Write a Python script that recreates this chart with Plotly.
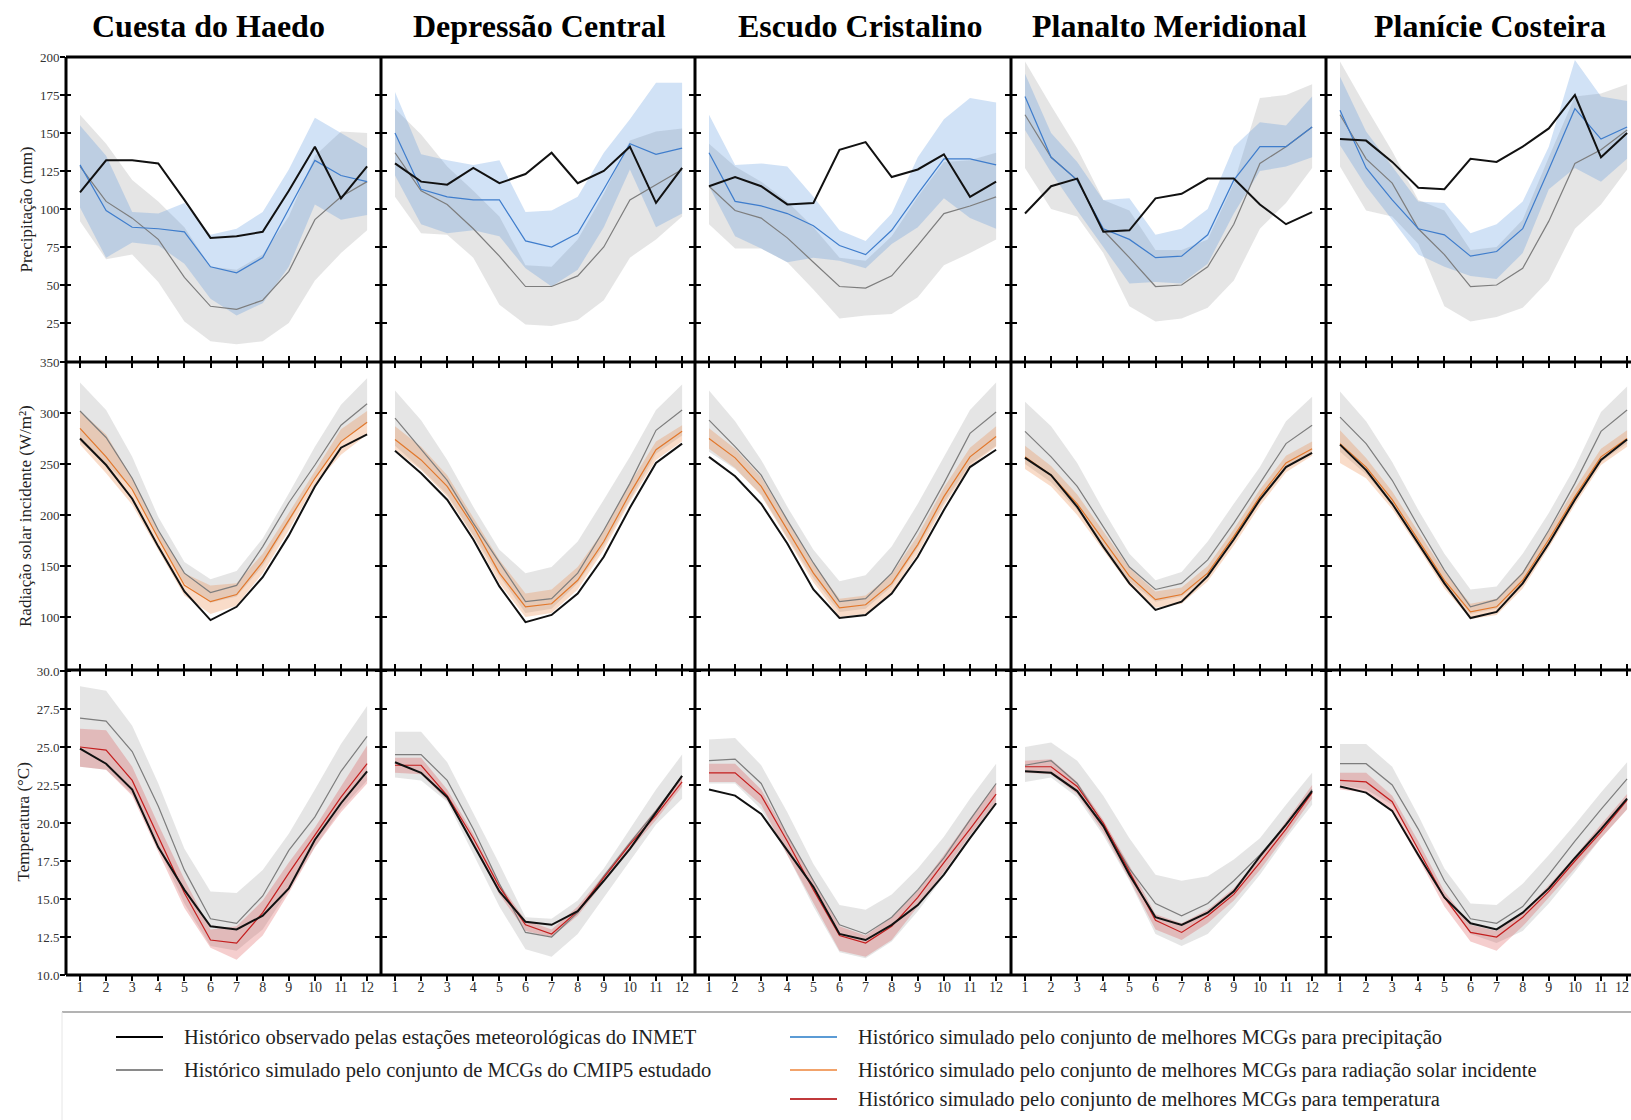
import plotly.graph_objects as go

W, H = 1631, 1120

MONTHS = list(range(1, 13))
MONTH_LABELS = [str(m) for m in MONTHS]
REGIONS = ["Cuesta do Haedo", "Depressão Central", "Escudo Cristalino",
           "Planalto Meridional", "Planície Costeira"]

PREC_TICKS = [25, 50, 75, 100, 125, 150, 175, 200]
PREC_TICK_LABELS = ["25", "50", "75", "100", "125", "150", "175", "200"]
RAD_TICKS = [100, 150, 200, 250, 300, 350]
RAD_TICK_LABELS = ["100", "150", "200", "250", "300", "350"]
TEMP_TICKS = [10, 12.5, 15, 17.5, 20, 22.5, 25, 27.5, 30]
TEMP_TICK_LABELS = ["10.0", "12.5", "15.0", "17.5", "20.0", "22.5", "25.0", "27.5", "30.0"]

# ---------------- Precipitação (mm) ----------------
PREC_OBS = [
    [111, 132, 132, 130, 106, 81, 82, 85, 112, 141, 107, 128],
    [130, 118, 116, 127, 117, 123, 137, 117, 125, 141, 104, 127],
    [115, 121, 115, 103, 104, 139, 144, 121, 126, 136, 108, 118],
    [97, 115, 120, 85, 86, 107, 110, 120, 120, 103, 90, 98],
    [146, 145, 131, 114, 113, 133, 131, 141, 153, 175, 134, 150],
]
PREC_CMIP_MEAN = [
    [128, 105, 94, 80, 55, 36, 34, 40, 59, 93, 108, 118],
    [137, 112, 103, 87, 69, 49, 49, 56, 75, 106, 116, 126],
    [115, 99, 94, 81, 65, 49, 48, 56, 76, 97, 102, 108],
    [162, 134, 119, 86, 68, 49, 50, 62, 90, 130, 141, 154],
    [162, 133, 117, 87, 70, 49, 50, 61, 92, 130, 139, 152],
]
PREC_CMIP_LO = [
    [92, 67, 70, 52, 26, 13, 11, 13, 25, 53, 71, 86],
    [108, 84, 83, 68, 37, 24, 23, 27, 40, 68, 80, 95],
    [90, 74, 74, 65, 47, 28, 30, 31, 42, 63, 71, 80],
    [127, 100, 95, 71, 36, 26, 28, 35, 53, 87, 104, 127],
    [128, 99, 95, 77, 36, 26, 29, 35, 53, 87, 103, 126],
]
PREC_CMIP_HI = [
    [162, 143, 119, 105, 88, 62, 60, 70, 95, 135, 151, 150],
    [166, 149, 128, 112, 95, 63, 62, 80, 110, 145, 151, 153],
    [143, 128, 118, 105, 88, 68, 66, 82, 108, 131, 132, 137],
    [197, 168, 140, 106, 99, 73, 73, 80, 117, 173, 175, 182],
    [197, 167, 138, 106, 99, 73, 75, 93, 134, 174, 176, 182],
]
PREC_BEST_MEAN = [
    [129, 99, 88, 87, 85, 62, 58, 68, 100, 132, 122, 118],
    [150, 113, 108, 106, 106, 79, 75, 84, 113, 143, 136, 140],
    [137, 105, 102, 97, 89, 76, 70, 86, 110, 133, 133, 129],
    [174, 134, 119, 87, 80, 68, 69, 83, 119, 141, 141, 154],
    [165, 127, 106, 87, 83, 69, 72, 87, 126, 166, 146, 154],
]
PREC_BEST_LO = [
    [101, 68, 78, 76, 64, 41, 30, 38, 62, 103, 93, 96],
    [122, 90, 84, 86, 82, 61, 49, 60, 88, 126, 88, 97],
    [115, 82, 74, 65, 68, 66, 61, 77, 88, 107, 94, 87],
    [152, 124, 99, 75, 51, 52, 51, 64, 97, 125, 128, 134],
    [142, 115, 93, 70, 62, 56, 54, 71, 113, 127, 118, 133],
]
PREC_BEST_HI = [
    [155, 135, 98, 97, 104, 83, 87, 98, 126, 160, 150, 140],
    [177, 136, 132, 129, 132, 98, 99, 108, 137, 159, 183, 183],
    [162, 129, 130, 128, 108, 86, 79, 97, 134, 159, 173, 170],
    [189, 150, 131, 106, 107, 83, 87, 100, 141, 157, 155, 174],
    [187, 151, 128, 105, 104, 84, 90, 105, 141, 198, 174, 171],
]

# ---------------- Radiação solar incidente (W/m²) ----------------
RAD_OBS = [
    [275, 249, 216, 169, 125, 97, 110, 139, 180, 228, 266, 279],
    [263, 241, 215, 176, 130, 95, 102, 123, 159, 207, 251, 270],
    [257, 238, 211, 172, 127, 99, 102, 123, 159, 205, 247, 264],
    [256, 239, 208, 169, 133, 107, 115, 140, 176, 215, 247, 261],
    [269, 244, 211, 172, 133, 99, 105, 133, 172, 215, 254, 274],
]
RAD_CMIP_MEAN = [
    [302, 276, 236, 185, 143, 124, 131, 169, 212, 249, 288, 309],
    [295, 264, 234, 192, 153, 115, 118, 143, 185, 231, 283, 303],
    [293, 267, 239, 195, 153, 115, 118, 143, 185, 231, 280, 301],
    [282, 257, 228, 189, 149, 127, 133, 156, 192, 231, 270, 288],
    [296, 270, 234, 189, 146, 110, 117, 143, 185, 231, 282, 303],
]
RAD_CMIP_LO = [
    [272, 250, 226, 176, 133, 114, 120, 150, 192, 237, 272, 290],
    [268, 245, 220, 180, 140, 104, 108, 133, 170, 215, 260, 278],
    [262, 245, 220, 178, 138, 105, 108, 130, 168, 212, 250, 268],
    [250, 232, 205, 170, 135, 115, 120, 140, 175, 213, 246, 262],
    [262, 240, 210, 172, 132, 103, 108, 133, 172, 214, 252, 270],
]
RAD_CMIP_HI = [
    [330, 303, 257, 198, 154, 137, 145, 177, 221, 267, 308, 334],
    [322, 293, 254, 208, 166, 143, 149, 174, 215, 257, 303, 328],
    [322, 292, 254, 208, 166, 135, 141, 169, 211, 257, 303, 330],
    [311, 287, 251, 205, 162, 136, 144, 174, 211, 247, 292, 316],
    [321, 292, 252, 205, 162, 127, 130, 162, 202, 247, 301, 326],
]
RAD_BEST_MEAN = [
    [285, 257, 225, 177, 131, 115, 122, 154, 195, 236, 272, 291],
    [274, 254, 228, 189, 143, 110, 113, 136, 174, 221, 264, 282],
    [275, 256, 228, 185, 143, 109, 112, 133, 171, 218, 257, 277],
    [257, 239, 211, 176, 140, 117, 122, 143, 179, 218, 251, 265],
    [270, 247, 215, 176, 136, 105, 110, 136, 176, 218, 257, 275],
]
RAD_BEST_LO = [
    [269, 241, 210, 166, 121, 103, 111, 143, 185, 230, 259, 279],
    [264, 244, 218, 179, 133, 100, 104, 127, 166, 213, 254, 272],
    [265, 246, 219, 176, 134, 100, 103, 124, 162, 209, 248, 267],
    [245, 228, 200, 166, 131, 109, 113, 135, 170, 209, 242, 258],
    [251, 236, 206, 168, 128, 98, 102, 128, 168, 210, 249, 267],
]
RAD_BEST_HI = [
    [302, 279, 236, 184, 143, 131, 133, 162, 202, 243, 284, 302],
    [287, 267, 239, 198, 156, 123, 127, 149, 185, 231, 272, 288],
    [285, 265, 237, 195, 152, 118, 121, 142, 180, 227, 266, 287],
    [268, 248, 220, 184, 148, 125, 129, 150, 186, 225, 258, 272],
    [283, 256, 223, 184, 144, 113, 118, 144, 184, 226, 265, 283],
]

# ---------------- Temperatura (°C) ----------------
TEMP_OBS = [
    [24.9, 23.9, 22.2, 18.4, 15.6, 13.2, 13.0, 13.9, 15.7, 18.9, 21.3, 23.4],
    [24.0, 23.3, 21.7, 18.6, 15.5, 13.5, 13.3, 14.2, 16.2, 18.3, 20.7, 23.1],
    [22.2, 21.8, 20.6, 18.2, 15.8, 12.7, 12.3, 13.3, 14.6, 16.6, 19.0, 21.3],
    [23.4, 23.3, 22.1, 19.8, 16.6, 13.8, 13.3, 14.1, 15.5, 17.8, 19.9, 22.1],
    [22.4, 22.0, 20.8, 17.9, 15.1, 13.4, 13.0, 14.1, 15.7, 17.7, 19.6, 21.6],
]
TEMP_CMIP_MEAN = [
    [26.9, 26.7, 24.7, 21.1, 16.9, 13.7, 13.4, 15.2, 18.2, 20.4, 23.4, 25.7],
    [24.5, 24.5, 22.8, 19.6, 16.0, 12.8, 12.5, 14.1, 16.5, 18.7, 20.8, 23.1],
    [24.1, 24.2, 22.6, 19.2, 16.2, 13.3, 12.7, 13.8, 15.6, 17.7, 20.2, 22.6],
    [23.8, 24.1, 22.6, 19.9, 17.0, 14.7, 13.9, 14.7, 16.2, 17.9, 19.9, 22.2],
    [23.9, 23.9, 22.5, 19.6, 16.2, 13.7, 13.4, 14.5, 16.6, 18.8, 20.9, 22.9],
]
TEMP_CMIP_LO = [
    [23.7, 23.5, 21.9, 18.4, 14.7, 11.9, 11.6, 13.0, 15.6, 18.4, 20.9, 22.8],
    [23.0, 22.8, 21.4, 17.9, 14.5, 11.7, 11.2, 12.7, 15.1, 17.5, 19.9, 21.6],
    [22.6, 22.6, 20.9, 17.9, 14.5, 11.5, 11.1, 12.2, 14.2, 16.5, 19.0, 21.2],
    [22.7, 23.0, 21.7, 19.2, 16.2, 12.7, 11.9, 12.7, 14.5, 16.6, 19.0, 21.2],
    [22.5, 22.2, 21.2, 18.3, 15.1, 12.7, 12.1, 12.9, 14.7, 16.8, 19.0, 20.9],
]
TEMP_CMIP_HI = [
    [29.0, 28.7, 26.4, 22.6, 18.3, 15.5, 15.4, 16.9, 19.3, 22.2, 25.2, 27.7],
    [26.0, 26.0, 24.0, 20.7, 17.3, 13.8, 13.7, 14.9, 17.0, 19.6, 22.2, 24.5],
    [25.5, 25.6, 23.8, 20.7, 17.3, 14.6, 14.3, 15.3, 17.0, 19.1, 21.6, 23.9],
    [25.0, 25.3, 24.1, 21.8, 19.0, 16.6, 16.2, 16.5, 17.6, 19.0, 21.2, 23.3],
    [25.2, 25.2, 23.7, 20.5, 17.0, 14.7, 14.6, 16.0, 17.9, 19.9, 22.0, 24.0],
]
TEMP_BEST_MEAN = [
    [25.0, 24.8, 22.8, 19.1, 15.4, 12.3, 12.1, 14.1, 16.7, 19.2, 21.7, 23.9],
    [23.8, 23.8, 21.8, 19.0, 15.8, 13.3, 12.7, 14.2, 16.4, 18.6, 20.5, 22.7],
    [23.3, 23.3, 21.8, 18.8, 15.6, 12.6, 12.1, 13.2, 15.1, 17.4, 19.6, 21.9],
    [23.7, 23.7, 22.4, 20.0, 16.8, 13.6, 12.8, 13.9, 15.3, 17.4, 19.6, 22.0],
    [22.8, 22.7, 21.4, 18.3, 15.1, 12.8, 12.5, 13.8, 15.5, 17.5, 19.4, 21.5],
]
TEMP_BEST_LO = [
    [23.7, 23.5, 21.8, 18.1, 14.4, 11.8, 11.0, 12.6, 15.4, 18.4, 20.7, 22.6],
    [23.3, 23.2, 21.5, 18.6, 15.3, 12.9, 12.5, 13.9, 16.1, 18.2, 20.2, 22.4],
    [22.7, 22.7, 21.2, 17.9, 14.7, 11.6, 11.2, 12.3, 14.5, 16.8, 19.2, 21.4],
    [23.3, 23.2, 21.9, 19.4, 16.3, 13.0, 12.3, 13.4, 14.9, 16.9, 19.2, 21.6],
    [22.2, 22.0, 20.7, 17.7, 14.5, 12.2, 11.6, 13.2, 15.1, 17.0, 19.0, 20.9],
]
TEMP_BEST_HI = [
    [26.2, 26.1, 23.7, 19.9, 16.3, 13.0, 13.2, 14.9, 17.4, 19.7, 22.4, 25.1],
    [24.3, 24.3, 22.2, 19.3, 16.0, 13.6, 13.0, 14.5, 16.6, 18.8, 20.9, 23.1],
    [23.9, 23.9, 22.2, 19.2, 16.2, 13.2, 12.6, 13.8, 15.6, 17.9, 20.3, 22.6],
    [24.1, 24.2, 22.7, 20.2, 17.2, 14.0, 13.4, 14.3, 15.7, 17.8, 20.1, 22.5],
    [23.3, 23.3, 21.8, 18.8, 15.5, 13.3, 12.9, 14.1, 15.9, 17.8, 19.9, 21.9],
]

Y_TITLES = ["Precipitação (mm)", "Radiação solar incidente (W/m²)", "Temperatura (°C)"]
LEGEND_LABELS = [
    "Histórico observado pelas estações meteorológicas do INMET",
    "Histórico simulado pelo conjunto de MCGs do CMIP5 estudado",
    "Histórico simulado pelo conjunto de melhores MCGs para precipitação",
    "Histórico simulado pelo conjunto de melhores MCGs para radiação solar incidente",
    "Histórico simulado pelo conjunto de melhores MCGs para temperatura",
]

# ---------------- styling ----------------
FONT = "Liberation Serif, Times New Roman, serif"
OBS_COLOR = "#111111"
CMIP_LINE = "#7d7d7d"
CMIP_FILL = "rgba(150,150,150,0.25)"
BEST_LINES = ["#3f7dcc", "#e2782c", "#c41e1e"]
BEST_FILLS = ["rgba(70,140,220,0.25)", "rgba(235,130,60,0.28)", "rgba(215,60,60,0.25)"]
LEGEND_COLORS = ["#000000", "#8a8a8a", "#5b9bd5", "#f2a36b", "#c0393b"]

ROWS = [
    (PREC_OBS, PREC_CMIP_MEAN, PREC_CMIP_LO, PREC_CMIP_HI, PREC_BEST_MEAN, PREC_BEST_LO, PREC_BEST_HI),
    (RAD_OBS, RAD_CMIP_MEAN, RAD_CMIP_LO, RAD_CMIP_HI, RAD_BEST_MEAN, RAD_BEST_LO, RAD_BEST_HI),
    (TEMP_OBS, TEMP_CMIP_MEAN, TEMP_CMIP_LO, TEMP_CMIP_HI, TEMP_BEST_MEAN, TEMP_BEST_LO, TEMP_BEST_HI),
]
# axis calibration: (value at top pixel, top pixel, value at bottom pixel, bottom pixel)
Y_CAL = [(200, 57, 0, 361), (350, 362, 50, 668), (30, 671, 10, 975)]
Y_TICKS = [(PREC_TICKS, PREC_TICK_LABELS), (RAD_TICKS, RAD_TICK_LABELS), (TEMP_TICKS, TEMP_TICK_LABELS)]

COL_EDGES = [66, 381, 695, 1011, 1326, 1631]   # px
ROW_EDGES = [57, 362, 670, 975]                # px from top
PX_PER_MONTH = 26.1
MONTH1_OFFSET = 14  # px from panel left edge to month 1
Y_TITLE_X = [26, 26, 23]

fig = go.Figure()
layout = {}


def band(xa, ya, lo, hi, color):
    fig.add_trace(go.Scatter(
        x=MONTHS + MONTHS[::-1], y=list(hi) + list(lo)[::-1],
        fill="toself", fillcolor=color, mode="lines", line=dict(width=0),
        hoverinfo="skip", showlegend=False, xaxis=xa, yaxis=ya))


def line(xa, ya, y, color, width):
    fig.add_trace(go.Scatter(
        x=MONTHS, y=y, mode="lines", line=dict(color=color, width=width),
        showlegend=False, xaxis=xa, yaxis=ya))


def val_at(cal, px):
    vt, pt, vb, pb = cal
    return vb + (vt - vb) * (pb - px) / (pb - pt)


for r, (obs, cm, clo, chi, bm, blo, bhi) in enumerate(ROWS):
    for c in range(5):
        i = r * 5 + c + 1
        xa = "x" if i == 1 else f"x{i}"
        ya = "y" if i == 1 else f"y{i}"
        band(xa, ya, clo[c], chi[c], CMIP_FILL)
        band(xa, ya, blo[c], bhi[c], BEST_FILLS[r])
        line(xa, ya, cm[c], CMIP_LINE, 1.2)
        line(xa, ya, bm[c], BEST_LINES[r], 1.2)
        line(xa, ya, obs[c], OBS_COLOR, 2)

        x0, x1 = COL_EDGES[c], COL_EDGES[c + 1]
        xr = [1 - MONTH1_OFFSET / PX_PER_MONTH, 1 + (x1 - x0 - MONTH1_OFFSET) / PX_PER_MONTH]
        top, bot = ROW_EDGES[r], ROW_EDGES[r + 1]
        yr = [val_at(Y_CAL[r], bot), val_at(Y_CAL[r], top)]
        key = "" if i == 1 else str(i)
        layout[f"xaxis{key}"] = dict(
            domain=[x0 / W, x1 / W], range=xr, anchor=ya, automargin=False,
            tickvals=MONTHS, ticktext=MONTH_LABELS, showticklabels=(r == 2),
            ticks="outside", ticklen=5, tickwidth=2, tickcolor="black",
            ticklabelstandoff=-6,
            showline=False, mirror=("allticks" if r > 0 else False),
            showgrid=False, zeroline=False,
            tickfont=dict(family=FONT, size=14, color="#333333"))
        tv, tt = Y_TICKS[r]
        layout[f"yaxis{key}"] = dict(
            domain=[1 - bot / H, 1 - top / H], range=yr, anchor=xa, automargin=False,
            tickvals=tv, ticktext=tt, showticklabels=(c == 0),
            ticks="outside", ticklen=5, tickwidth=2, tickcolor="black",
            ticklabelstandoff=-2,
            showline=False, mirror=("allticks" if c < 4 else False),
            showgrid=False, zeroline=False,
            tickfont=dict(family=FONT, size=13, color="#333333"))

shapes = []
# panel frame lines
for xe in COL_EDGES[:-1]:
    shapes.append(dict(type="line", xref="paper", yref="paper", x0=xe / W, x1=xe / W,
                       y0=1 - ROW_EDGES[-1] / H, y1=1 - ROW_EDGES[0] / H,
                       line=dict(color="black", width=3)))
for ye in ROW_EDGES:
    shapes.append(dict(type="line", xref="paper", yref="paper", x0=COL_EDGES[0] / W, x1=1,
                       y0=1 - ye / H, y1=1 - ye / H, line=dict(color="black", width=3)))
# ticks crossing the outer left edge (inner half)
for r in range(3):
    ya = "y" if r == 0 else f"y{r * 5 + 1}"
    for tv in Y_TICKS[r][0]:
        shapes.append(dict(type="line", xref="paper", yref=ya, x0=COL_EDGES[0] / W,
                           x1=(COL_EDGES[0] + 5) / W, y0=tv, y1=tv,
                           line=dict(color="black", width=2)))

annotations = []
TITLE_X = [208, 539, 860, 1169, 1490]
for name, tx in zip(REGIONS, TITLE_X):
    annotations.append(dict(text=f"<b>{name}</b>", x=tx / W, y=1 - 26 / H, xref="paper", yref="paper",
                            xanchor="center", yanchor="middle", showarrow=False,
                            font=dict(family=FONT, size=32, color="black")))
for r, title in enumerate(Y_TITLES):
    top, bot = ROW_EDGES[r], ROW_EDGES[r + 1]
    annotations.append(dict(text=title, x=Y_TITLE_X[r] / W, y=1 - (top + bot) / 2 / H,
                            xref="paper", yref="paper",
                            xanchor="center", yanchor="middle", textangle=-90, showarrow=False,
                            font=dict(family=FONT, size=17, color="#222222")))
# last month label of the right-most column, kept fully inside the page edge
annotations.append(dict(text=MONTH_LABELS[-1], x=1, xref="paper", y=1 - 987 / H, yref="paper",
                        xanchor="right", yanchor="middle", showarrow=False,
                        font=dict(family=FONT, size=14, color="#333333")))

# legend (drawn manually)
shapes += [
    dict(type="line", xref="paper", yref="paper", x0=62 / W, x1=1, y0=1 - 1012 / H, y1=1 - 1012 / H,
         line=dict(color="#9a9a9a", width=1.5)),
    dict(type="line", xref="paper", yref="paper", x0=62 / W, x1=62 / W, y0=0, y1=1 - 1012 / H,
         line=dict(color="#e6e6e6", width=1)),
]
LEG_POS = [(116, 1037), (116, 1070), (790, 1037), (790, 1070), (790, 1099)]
for label, color, (lx, ly) in zip(LEGEND_LABELS, LEGEND_COLORS, LEG_POS):
    shapes.append(dict(type="line", xref="paper", yref="paper", x0=lx / W, x1=(lx + 47) / W,
                       y0=1 - ly / H, y1=1 - ly / H, line=dict(color=color, width=2)))
    annotations.append(dict(text=label, x=(lx + 66) / W, y=1 - ly / H, xref="paper", yref="paper",
                            xanchor="left", yanchor="middle", showarrow=False,
                            font=dict(family=FONT, size=20.5, color="#222222")))

fig.update_layout(
    width=W, height=H, margin=dict(l=0, r=0, t=0, b=0, autoexpand=False),
    paper_bgcolor="white", plot_bgcolor="white",
    showlegend=False, annotations=annotations, shapes=shapes,
    **layout)

fig.write_html("out.html", config={"displayModeBar": False},
               post_script="document.body.style.margin='0';")
